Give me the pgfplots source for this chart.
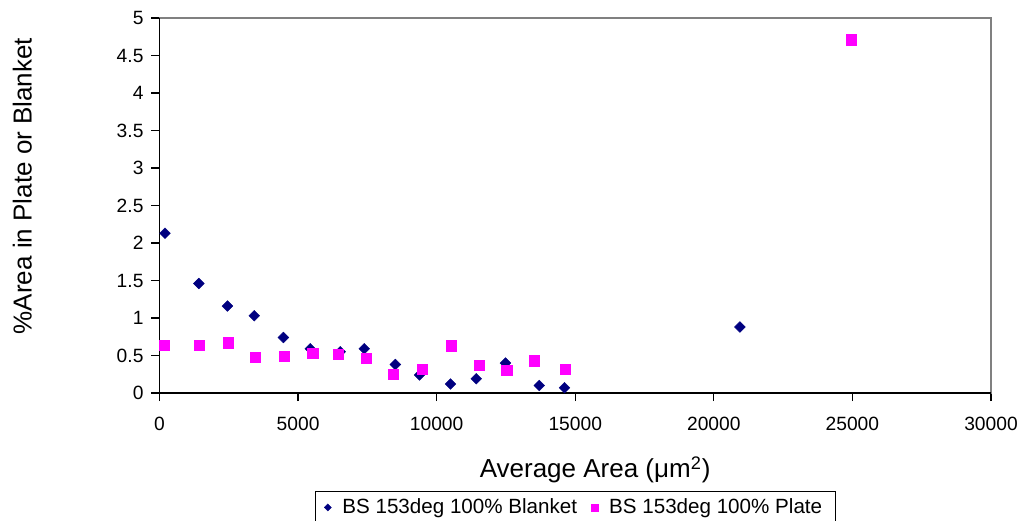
\documentclass[border=0pt]{standalone}
\usepackage{pgfplots}
\pgfplotsset{compat=1.18}
\usepackage{fontspec}
\setmainfont{Liberation Sans}
\definecolor{navyblue}{RGB}{0,0,128}
\definecolor{mag}{RGB}{255,0,255}
\definecolor{bordergray}{RGB}{128,128,128}
\pgfplotsset{
  legdiam/.style={legend image code/.code={\draw[##1, mark size=1.25pt] plot coordinates {(0pt,0pt)};}},
  legsq/.style={legend image code/.code={\draw[##1, mark size=1.75pt] plot coordinates {(0pt,0pt)};}},
}
\begin{document}
\begin{tikzpicture}
\begin{axis}[
  scale only axis,
  width=415.75pt, height=187.5pt,
  xmin=0, xmax=30000, ymin=0, ymax=5,
  xtick={0,5000,10000,15000,20000,25000,30000},
  ytick={0,0.5,1,1.5,2,2.5,3,3.5,4,4.5,5},
  scaled x ticks=false,
  /pgf/number format/1000 sep={},
  /pgf/number format/assume math mode=true,
  tick align=outside,
  xtick pos=bottom, ytick pos=left,
  major tick length=4pt,
  tick style={black, line width=0.6pt},
  axis line style={bordergray, line width=0.6pt},
  ticklabel style={font=\fontsize{9.6}{11}\selectfont},
  xticklabel style={yshift=-4.5pt},
  yticklabel style={xshift=-0.5pt},
  xlabel={Average Area (μm\textsuperscript{2})},
  ylabel={\%Area in Plate or Blanket},
  label style={font=\fontsize{13}{15}\selectfont},
  xlabel style={at={(axis description cs:0.524,-0.205)}, anchor=center},
  ylabel style={at={(axis description cs:-0.165,0.552)}, anchor=center},
  legend columns=2,
  legend style={at={(axis description cs:0.5,-0.2613)}, anchor=north,
    draw=black, line width=0.5pt, font=\fontsize{10.3}{12}\selectfont,
    inner xsep=4.5pt, inner ysep=1.5pt,
    /tikz/every odd column/.append style={column sep=3.5pt},
    /tikz/every even column/.append style={column sep=5pt}},
  clip=false,
]
\addplot[only marks, mark=square*, mark size=1.9pt, mark options={rotate=45, fill=navyblue, draw=navyblue, line width=0.2pt}, legdiam]
  table {
x y
200 2.13
1420 1.46
2450 1.16
3420 1.03
4470 0.74
5440 0.59
6520 0.55
7390 0.59
8510 0.38
9380 0.24
10500 0.12
11430 0.19
12480 0.40
13700 0.10
14610 0.07
20940 0.88
};
\addlegendentry{BS 153deg 100\% Blanket}
\addplot[only marks, mark=square*, mark size=2.55pt, mark options={fill=mag, draw=mag, line width=0.2pt}, legsq]
  table {
x y
160 0.64
1430 0.64
2470 0.67
3450 0.48
4500 0.49
5530 0.53
6460 0.52
7470 0.46
8430 0.25
9490 0.32
10510 0.63
11530 0.37
12530 0.30
13520 0.43
14640 0.32
24960 4.71
};
\addlegendentry{BS 153deg 100\% Plate}
\draw[black, line width=0.8pt] (rel axis cs:0,1) -- (rel axis cs:0,0) -- (rel axis cs:1,0);
\end{axis}
\pgfresetboundingbox
\path (-79.75pt,-63.5pt) rectangle (431.25pt,196.5pt);
\end{tikzpicture}
\end{document}
